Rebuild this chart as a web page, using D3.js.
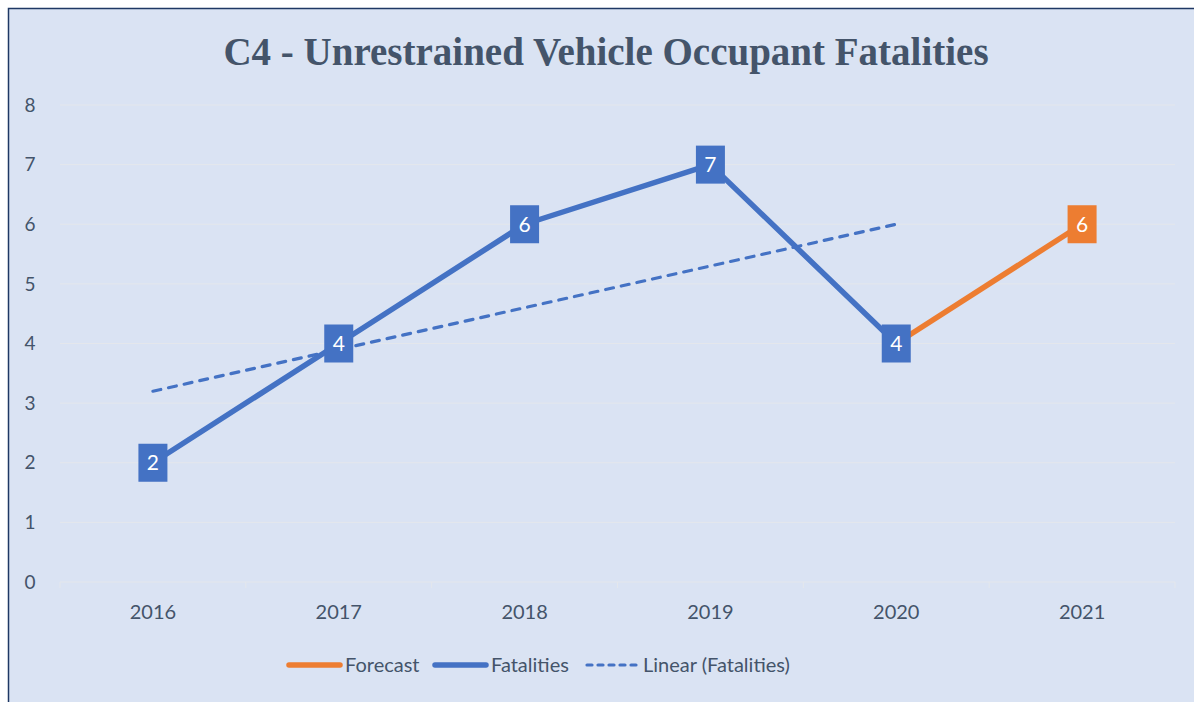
<!DOCTYPE html>
<html>
<head>
<meta charset="utf-8">
<script src="https://cdn.jsdelivr.net/npm/d3@7"></script>
<style>
  html, body { margin: 0; padding: 0; background: #fff; }
  svg { display: block; }
</style>
</head>
<body>
<div id="chart"></div>
<script>
// 数据
const years = ["2016", "2017", "2018", "2019", "2020", "2021"];
const fatalities = [2, 4, 6, 7, 4];            // 2016–2020
const forecastYears = ["2020", "2021"];
const forecast = [4, 6];
const trendYears = ["2016", "2020"];
const trend = [3.2, 6.0];                      // Linear (Fatalities)
const yTicks = [0, 1, 2, 3, 4, 5, 6, 7, 8];

const W = 1194, H = 702;
const BLUE = "#4472c4", ORANGE = "#ed7d31", TXT = "#44546a";
const m = { top: 105, right: 19, bottom: 120, left: 60 };
const FONT = "Lato, 'Noto Sans', sans-serif";

const svg = d3.select("#chart").append("svg").attr("width", W).attr("height", H);

// 背景与边框
svg.append("rect").attr("x", 8.5).attr("y", 8.5).attr("width", W).attr("height", H)
  .attr("fill", "#dae3f3").attr("stroke", "#1f3864").attr("stroke-width", 1.5);

svg.append("text").attr("x", 606).attr("y", 65).attr("text-anchor", "middle")
  .attr("fill", TXT).style("font-family", "'Liberation Serif', 'DejaVu Serif', serif")
  .style("font-weight", "bold").style("font-size", "39px")
  .text("C4 - Unrestrained Vehicle Occupant Fatalities");

const x = d3.scalePoint().domain(years).range([m.left, W - m.right]).padding(0.5);
const y = d3.scaleLinear().domain([0, 8]).range([582, 105]);

// 网格
svg.append("g").selectAll("line").data(yTicks.filter((d) => d > 0)).join("line")
  .attr("x1", m.left).attr("x2", W - m.right)
  .attr("y1", (d) => y(d)).attr("y2", (d) => y(d))
  .attr("stroke", "#e4e7ec").attr("stroke-width", 1);

// Y 轴文字
svg.append("g").selectAll("text").data(yTicks).join("text")
  .attr("x", 30).attr("y", (d) => y(d)).attr("dy", "0.35em").attr("text-anchor", "middle")
  .attr("fill", TXT).style("font-family", FONT).style("font-size", "19px")
  .text((d) => d);

// X 轴
const xAxis = svg.append("g").attr("transform", `translate(0,${y(0)})`);
xAxis.append("line").attr("x1", m.left).attr("x2", W - m.right).attr("stroke", "#e4e7ec");
const step = x.step();
xAxis.selectAll("line.tick").data(d3.range(years.length + 1)).join("line").attr("class", "tick")
  .attr("x1", (i) => m.left + i * step).attr("x2", (i) => m.left + i * step)
  .attr("y1", 0).attr("y2", 6).attr("stroke", "#e4e7ec");
xAxis.selectAll("text").data(years).join("text")
  .attr("x", (d) => x(d)).attr("y", 30).attr("dy", "0.35em").attr("text-anchor", "middle")
  .attr("fill", TXT).style("font-family", FONT).style("font-size", "20px")
  .text((d) => d);

const line = d3.line().x((d) => x(d[0])).y((d) => y(d[1]));
const fatPts = fatalities.map((v, i) => [years[i], v]);
const fcPts = forecast.map((v, i) => [forecastYears[i], v]);
const trPts = trend.map((v, i) => [trendYears[i], v]);

svg.append("path").datum(fcPts).attr("d", line).attr("fill", "none")
  .attr("stroke", ORANGE).attr("stroke-width", 5.5).attr("stroke-linejoin", "round");
svg.append("path").datum(fatPts).attr("d", line).attr("fill", "none")
  .attr("stroke", BLUE).attr("stroke-width", 5.5).attr("stroke-linejoin", "round");
svg.append("path").datum(trPts).attr("d", line).attr("fill", "none")
  .attr("stroke", BLUE).attr("stroke-width", 3.2).attr("stroke-dasharray", "8 8")
  .attr("stroke-linecap", "round");

// 数据标签
function labels(pts, color) {
  const g = svg.append("g").selectAll("g").data(pts).join("g")
    .attr("transform", (d) => `translate(${x(d[0])},${y(d[1])})`);
  g.append("rect").attr("x", -14.5).attr("y", -19).attr("width", 29).attr("height", 38).attr("fill", color);
  g.append("text").attr("text-anchor", "middle").attr("dy", "0.36em").attr("fill", "#fff")
    .style("font-family", FONT).style("font-size", "21px").text((d) => d[1]);
}
labels(fatPts, BLUE);
labels(fcPts.slice(1), ORANGE);

// 图例
const legend = [
  { name: "Forecast", color: ORANGE, x: 289, dash: null, w: 5.5 },
  { name: "Fatalities", color: BLUE, x: 435, dash: null, w: 5.5 },
  { name: "Linear (Fatalities)", color: BLUE, x: 587, dash: "5 6", w: 3.2 },
];
const lg = svg.append("g").selectAll("g").data(legend).join("g")
  .attr("transform", (d) => `translate(${d.x},665)`);
lg.append("line").attr("x1", 0).attr("x2", 51).attr("stroke", (d) => d.color)
  .attr("stroke-width", (d) => d.w).attr("stroke-dasharray", (d) => d.dash).attr("stroke-linecap", "round");
lg.append("text").attr("x", 56).attr("dy", "0.35em").attr("fill", TXT)
  .style("font-family", FONT).style("font-size", "20px").text((d) => d.name);
</script>
</body>
</html>
